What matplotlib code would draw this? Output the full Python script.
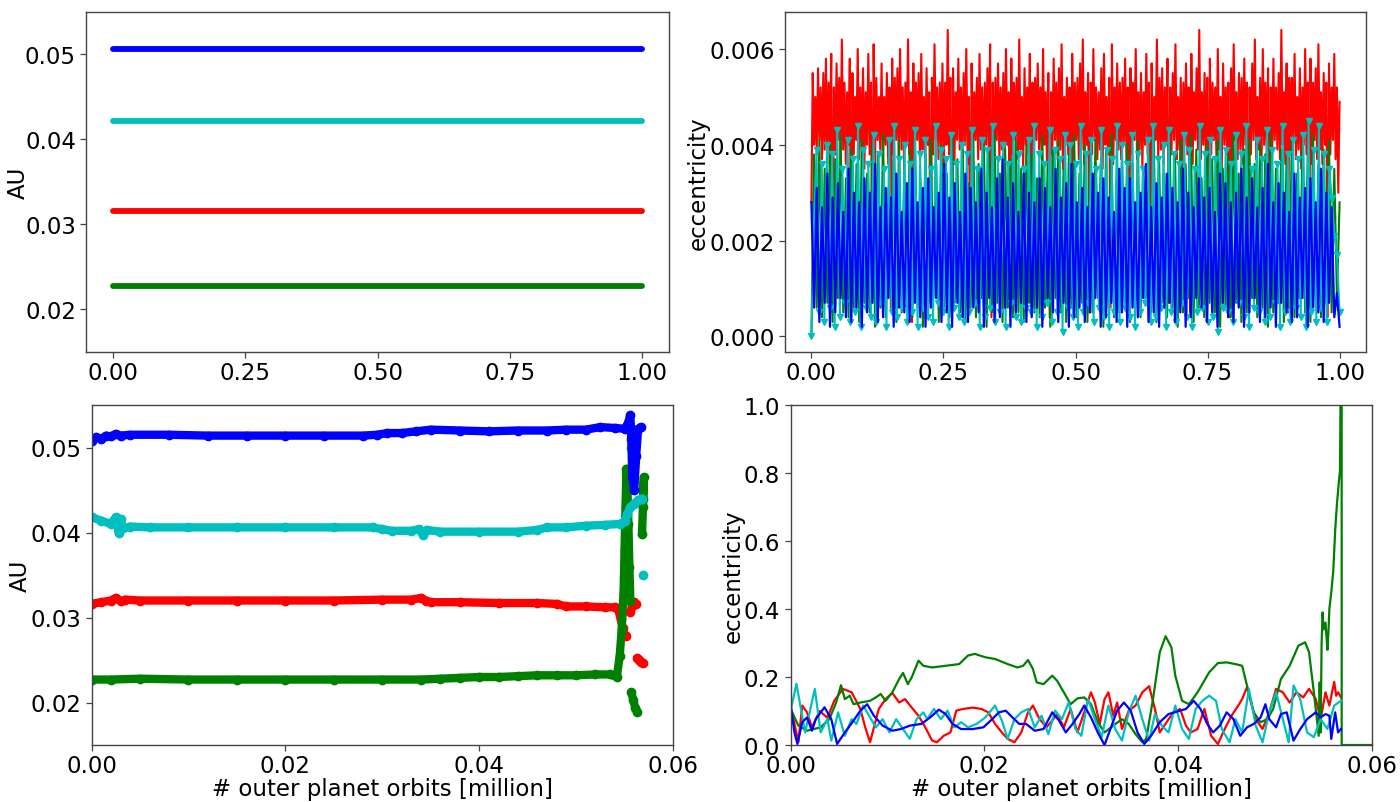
import numpy as np
import matplotlib
matplotlib.use("Agg")
import matplotlib.pyplot as plt

nan = float("nan")
plt.rcParams['font.family'] = ['DejaVu Sans']
plt.rcParams['font.size'] = 16.5

# ---------------- top-left: semi-major axes (initial) ----------------
tl_t = [0.0, 0.25, 0.5, 0.75, 1.0]
tl_blue = [0.0506, 0.0506, 0.0506, 0.0506, 0.0506]
tl_cyan = [0.0422, 0.0422, 0.0422, 0.0422, 0.0422]
tl_red = [0.0316, 0.0316, 0.0316, 0.0316, 0.0316]
tl_green = [0.0227, 0.0227, 0.0227, 0.0227, 0.0227]

# ---------------- top-right: eccentricity (units of 1e-4) ----------------
tr_red = [
28,55, 40,50, 38,56, 41,52, 37,55, 39,58, 36,53, 40,59, 5,52, 38,57,
41,54, 37,62, 39,53, 36,51, 40,58, 4,55, 38,50, 41,60, 37,52, 39,56,
35,51, 40,59, 38,53, 8,61, 36,54, 41,50, 39,57, 37,50, 40,55, 36,52,
6,58, 38,54, 41,56, 37,60, 39,52, 35,53, 40,62, 38,51, 3,57, 36,53,
41,55, 37,59, 39,50, 36,56, 40,51, 7,54, 38,61, 41,52, 37,53, 39,57,
35,53, 40,64, 38,54, 5,56, 36,51, 41,58, 39,52, 37,55, 40,60, 36,50,
9,57, 38,51, 41,54, 37,59, 39,52, 35,53, 40,56, 38,61, 4,53, 36,54,
41,57, 37,52, 39,55, 36,60, 40,51, 6,58, 38,53, 41,54, 37,62, 39,50,
35,56, 40,52, 38,59, 7,53, 36,54, 41,57, 39,52, 37,60, 40,51, 36,55,
4,51, 38,58, 41,53, 37,56, 39,61, 35,50, 40,54, 38,52, 8,59, 36,53,
41,54, 37,57, 39,62, 36,51, 40,55, 5,53, 38,60, 41,52, 37,51, 39,56,
35,59, 40,50, 38,54, 6,61, 36,52, 41,57, 39,53, 37,54, 40,58, 36,52,
9,56, 38,53, 41,60, 37,51, 39,55, 35,51, 40,59, 38,53, 3,57, 36,50,
41,62, 37,54, 39,56, 36,52, 40,58, 7,52, 38,55, 41,61, 37,50, 39,54,
35,53, 40,57, 38,52, 5,59, 36,51, 41,56, 39,64, 37,51, 40,55, 36,54,
8,58, 38,53, 41,52, 37,60, 39,50, 35,57, 40,52, 38,53, 4,56, 36,61,
41,51, 37,55, 39,54, 36,58, 40,53, 6,52, 38,57, 41,62, 37,50, 39,54,
35,60, 40,53, 38,56, 9,52, 36,58, 41,52, 39,55, 37,64, 40,51, 36,57,
5,54, 38,54, 41,59, 37,50, 39,56, 35,52, 40,60, 38,53, 7,58, 36,53,
41,56, 37,61, 39,51, 36,55, 40,53, 4,57, 38,52, 41,59, 37,52, 30,49,
]
tr_green = [
0,38, 6,41, 4,35, 7,40, 3,37, 8,42, 5,33, 4,39, 6,36, 3,41,
7,34, 5,40, 2,38, 6,42, 4,31, 8,37, 3,41, 5,35, 7,39, 4,42,
6,33, 2,38, 5,41, 8,36, 3,40, 6,34, 4,42, 7,37, 5,39, 3,32,
6,41, 4,36, 8,40, 2,38, 5,42, 7,34, 3,39, 6,37, 4,41, 5,35,
3,40, 7,38, 5,33, 4,42, 6,36, 2,39, 8,41, 5,35, 3,38, 6,42,
4,34, 7,40, 3,37, 5,41, 8,36, 2,39, 6,42, 4,33, 5,38, 7,40,
3,36, 6,41, 4,35, 8,39, 5,42, 3,37, 7,34, 4,40, 6,38, 2,41,
5,36, 8,42, 3,39, 6,33, 4,40, 7,37, 5,41, 2,35, 6,38, 4,42,
7,34, 3,39, 5,41, 8,36, 4,40, 6,38, 2,42, 5,35, 7,39, 3,37,
6,41, 4,34, 8,40, 5,38, 3,42, 6,36, 4,39, 7,41, 5,35, 8,28,
]
tr_cyan = [
0,24,39, 5,36, 3,40, 6,38, 2,43, 4,35, 7,41, 3,37, 5,44, 2,39,
6,36, 4,42, 3,38, 7,35, 2,41, 5,44, 4,37, 6,40, 3,36, 5,43,
2,38, 6,41, 4,35, 3,44, 7,39, 5,37, 2,42, 6,36, 4,40, 3,38,
5,43, 7,35, 2,41, 4,39, 6,44, 3,37, 5,40, 2,36, 7,42, 4,38,
3,35, 6,41, 5,44, 2,38, 4,36, 7,43, 3,39, 5,37, 1,42, 6,40,
4,36, 2,44, 5,38, 7,41, 3,35, 6,43, 4,39, 2,37, 5,44, 3,40,
6,36, 4,42, 2,38, 5,35, 7,41, 3,44, 4,37, 6,40, 2,43, 5,38,
3,36, 7,42, 4,39, 2,35, 5,44, 6,38, 3,41, 4,37, 1,43, 6,39,
5,36, 3,42, 7,38, 4,44, 2,35, 6,41, 5,37, 3,43, 4,39, 7,36,
2,44, 5,38, 3,41, 6,37, 4,42, 2,45, 5,39, 3,44, 6,38, 3,35, 29,21,17,5,
]
tr_blue = [
28,6, 31,3, 27,7, 34,2, 29,5, 32,8, 26,4, 35,3, 30,6, 28,2,
33,5, 30,7, 36,3, 27,4, 31,8, 29,2, 34,6, 26,5, 32,3, 35,7,
28,4, 31,2, 33,6, 27,8, 30,3, 36,5, 29,2, 32,7, 26,4, 34,3,
31,6, 28,5, 35,2, 30,8, 27,3, 33,4, 37,6, 29,2, 32,5, 26,7,
34,3, 30,4, 28,6, 33,2, 31,8, 27,5, 35,3, 29,7, 32,2, 36,4,
28,6, 31,3, 27,5, 34,8, 30,2, 33,4, 29,7, 26,3, 35,5, 31,2,
33,6, 28,4, 30,8, 36,3, 27,5, 32,2, 29,6, 34,7, 31,3, 28,5,
35,2, 30,4, 27,8, 33,6, 29,3, 31,5, 26,2, 34,7, 32,4, 28,3,
30,6, 35,2, 29,5, 33,8, 27,3, 31,4, 36,6, 28,2, 32,7, 30,5,
26,3, 34,4, 29,8, 31,2, 33,6, 28,5, 35,3, 30,7, 27,4, 9,2,
]

# ---------------- bottom-left: semi-major axes (evolution) ----------------
bl_red_t = [0, 0.001, 0.002, 0.0025, 0.003, 0.0035, 0.005, 0.010, 0.015, 0.020,
            0.025, 0.030, 0.033, 0.034, 0.0345, 0.035, 0.038, 0.042, 0.046, 0.048,
            0.049, 0.051, 0.053, 0.0540, 0.0544, 0.0546, 0.0548, 0.0550, 0.0552, nan,
            0.0556, 0.0558, 0.0560, 0.0562, nan, 0.0563, 0.0565, 0.0567, 0.0569]
bl_red_a = [0.0316, 0.0318, 0.0320, 0.0323, 0.0319, 0.0321, 0.0320, 0.0320, 0.0320, 0.0320,
            0.0320, 0.0321, 0.0321, 0.0323, 0.0320, 0.0318, 0.0318, 0.0317, 0.0317, 0.0316,
            0.0313, 0.0313, 0.0312, 0.0312, 0.0308, 0.0298, 0.0288, 0.0280, 0.0278, nan,
            0.0306, 0.0314, 0.0318, 0.0316, nan, 0.0252, 0.0250, 0.0248, 0.0246]
bl_green_t = [0, 0.002, 0.005, 0.010, 0.015, 0.020, 0.025, 0.030, 0.034, 0.036,
              0.038, 0.040, 0.042, 0.044, 0.046, 0.048, 0.050, 0.052, 0.0535, 0.0542,
              0.0545, 0.0547, 0.0549, 0.0550, 0.0551, 0.0552, 0.0553, 0.0554, 0.0555, 0.0556,
              nan, 0.0557, 0.0559, 0.0561, 0.0563, nan, 0.0568, 0.0569, 0.0570, 0.0569]
bl_green_a = [0.0227, 0.0227, 0.0228, 0.0227, 0.0227, 0.0227, 0.0227, 0.0227, 0.0227, 0.0228,
              0.0229, 0.0230, 0.0230, 0.0231, 0.0232, 0.0232, 0.0232, 0.0233, 0.0233, 0.0230,
              0.0255, 0.0285, 0.0330, 0.0380, 0.0430, 0.0475, 0.0450, 0.0410, 0.0360, 0.0320,
              nan, 0.0212, 0.0203, 0.0194, 0.0189, nan, 0.0398, 0.0430, 0.0465, 0.0440]
bl_cyan_t = [0, 0.001, 0.002, 0.0025, 0.0028, 0.003, 0.0032, 0.004, 0.006, 0.010,
             0.015, 0.020, 0.025, 0.029, 0.030, 0.031, 0.033, 0.0338, 0.0342, 0.0346,
             0.036, 0.040, 0.044, 0.046, 0.047, 0.049, 0.051, 0.053, 0.0545, 0.0550,
             0.0553, 0.0556, 0.0560, 0.0564, 0.0568, nan, 0.0557, 0.0559, 0.0561, nan, 0.0569]
bl_cyan_a = [0.0418, 0.0414, 0.0410, 0.0418, 0.0400, 0.0416, 0.0405, 0.0407, 0.0406, 0.0406,
             0.0406, 0.0406, 0.0406, 0.0406, 0.0404, 0.0402, 0.0402, 0.0404, 0.0397, 0.0403,
             0.0401, 0.0401, 0.0401, 0.0403, 0.0406, 0.0406, 0.0408, 0.0409, 0.0410, 0.0413,
             0.0422, 0.0430, 0.0434, 0.0438, 0.0440, nan, 0.0500, 0.0512, 0.0505, nan, 0.0350]
bl_blue_t = [0, 0.0005, 0.001, 0.0015, 0.002, 0.0025, 0.003, 0.004, 0.008, 0.012,
             0.016, 0.020, 0.024, 0.028, 0.0295, 0.0305, 0.032, 0.0335, 0.035, 0.038,
             0.041, 0.044, 0.047, 0.049, 0.051, 0.0525, 0.054, 0.0550, 0.0553, 0.0556,
             0.0557, 0.0558, 0.0560, 0.0562, 0.0564, 0.0567]
bl_blue_a = [0.0508, 0.0512, 0.0510, 0.0514, 0.0513, 0.0516, 0.0514, 0.0515, 0.0515, 0.0514,
             0.0514, 0.0514, 0.0514, 0.0514, 0.0515, 0.0517, 0.0517, 0.0519, 0.0521, 0.0520,
             0.0519, 0.0520, 0.0520, 0.0521, 0.0521, 0.0524, 0.0523, 0.0522, 0.0527, 0.0538,
             0.0510, 0.0465, 0.0450, 0.0490, 0.0522, 0.0524]

# ---------------- bottom-right: eccentricity (evolution) ----------------
br_green_t = [0, 0.0008, 0.0017, 0.0031, 0.0040, 0.0047, 0.0052, 0.0056, 0.0061, 0.0065,
              0.0072, 0.0082, 0.0088, 0.0093, 0.0098, 0.0105, 0.0112, 0.0116, 0.0121, 0.0125,
              0.0132, 0.0137, 0.0146, 0.0160, 0.0174, 0.0183, 0.0190, 0.0201, 0.0211, 0.0224,
              0.0234, 0.0240, 0.0245, 0.0250, 0.0254, 0.0261, 0.0270, 0.0275, 0.0282, 0.0289,
              0.0296, 0.0303, 0.0310, 0.0317, 0.0324, 0.0333, 0.0342, 0.0349, 0.0356, 0.0363,
              0.0367, 0.0374, 0.0381, 0.0387, 0.0393, 0.0397, 0.0404, 0.0411, 0.0420, 0.0432,
              0.0441, 0.0450, 0.0459, 0.0466, 0.0471, 0.0478, 0.0485, 0.0492, 0.0498, 0.0506,
              0.0515, 0.0524, 0.0531, 0.0535, 0.0540, 0.0545, 0.0546, 0.0547, 0.0548, 0.0549,
              0.0550, 0.0552, 0.0554, 0.0555, 0.0556, 0.0558, 0.0560, 0.0562, 0.0563, 0.0564,
              0.0566, 0.0567, 0.05687, 0.05687, 0.0605]
br_green_e = [0.106, 0.057, 0.042, 0.052, 0.076, 0.125, 0.176, 0.135, 0.145, 0.120,
              0.125, 0.130, 0.140, 0.150, 0.130, 0.155, 0.194, 0.212, 0.179, 0.199,
              0.248, 0.233, 0.228, 0.233, 0.238, 0.263, 0.268, 0.258, 0.253, 0.238,
              0.228, 0.233, 0.250, 0.224, 0.184, 0.179, 0.204, 0.189, 0.155, 0.120,
              0.137, 0.140, 0.120, 0.067, 0.037, 0.057, 0.076, 0.062, 0.032, 0.008,
              0.018, 0.135, 0.273, 0.320, 0.287, 0.204, 0.130, 0.120, 0.155, 0.214,
              0.241, 0.243, 0.238, 0.233, 0.175, 0.096, 0.067, 0.076, 0.106, 0.194,
              0.233, 0.292, 0.302, 0.273, 0.155, 0.027, 0.184, 0.037, 0.300, 0.390,
              0.340, 0.360, 0.280, 0.330, 0.400, 0.450, 0.510, 0.630, 0.675, 0.715,
              0.780, 0.807, 1.5, 0.0, 0.0]
br_red_t = [0, 0.0003, 0.0008, 0.0012, 0.0017, 0.0022, 0.0030, 0.0038, 0.0045, 0.0054,
            0.0063, 0.0072, 0.0077, 0.0082, 0.0086, 0.0091, 0.0098, 0.0105, 0.0112, 0.0118,
            0.0125, 0.0132, 0.0139, 0.0146, 0.0151, 0.0158, 0.0165, 0.0171, 0.0178, 0.0188,
            0.0197, 0.0204, 0.0211, 0.0218, 0.0224, 0.0231, 0.0238, 0.0245, 0.0250, 0.0257,
            0.0264, 0.0270, 0.0275, 0.0282, 0.0289, 0.0296, 0.0303, 0.0310, 0.0314, 0.0319,
            0.0324, 0.0328, 0.0333, 0.0337, 0.0342, 0.0349, 0.0356, 0.0363, 0.0370, 0.0376,
            0.0381, 0.0388, 0.0395, 0.0402, 0.0408, 0.0413, 0.0420, 0.0427, 0.0434, 0.0441,
            0.0448, 0.0455, 0.0462, 0.0466, 0.0471, 0.0476, 0.0480, 0.0487, 0.0494, 0.0501,
            0.0508, 0.0515, 0.0522, 0.0529, 0.0535, 0.0542, 0.0547, 0.0552, 0.0556, 0.0561,
            0.0563, 0.0565, 0.0568]
br_red_e = [0.116, 0.076, 0.008, 0.116, 0.096, 0.052, 0.100, 0.080, 0.130, 0.165,
            0.155, 0.106, 0.052, 0.008, 0.052, 0.106, 0.135, 0.153, 0.125, 0.135,
            0.110, 0.086, 0.052, 0.013, 0.008, 0.027, 0.037, 0.101, 0.106, 0.110,
            0.106, 0.096, 0.062, 0.037, 0.018, 0.008, 0.037, 0.096, 0.116, 0.076,
            0.052, 0.072, 0.091, 0.052, 0.106, 0.037, 0.096, 0.155, 0.125, 0.062,
            0.135, 0.155, 0.086, 0.125, 0.047, 0.101, 0.116, 0.155, 0.173, 0.106,
            0.037, 0.067, 0.096, 0.106, 0.057, 0.037, 0.047, 0.106, 0.027, 0.003,
            0.047, 0.086, 0.116, 0.135, 0.170, 0.116, 0.076, 0.047, 0.096, 0.165,
            0.155, 0.125, 0.155, 0.140, 0.165, 0.135, 0.076, 0.155, 0.116, 0.186,
            0.145, 0.155, 0.140]
br_cyan_t = [0, 0.0006, 0.0015, 0.0025, 0.0031, 0.0038, 0.0042, 0.0049, 0.0056, 0.0063,
             0.0068, 0.0075, 0.0082, 0.0088, 0.0095, 0.0102, 0.0109, 0.0116, 0.0123, 0.0130,
             0.0137, 0.0141, 0.0148, 0.0155, 0.0162, 0.0169, 0.0176, 0.0183, 0.0192, 0.0201,
             0.0211, 0.0218, 0.0224, 0.0231, 0.0238, 0.0245, 0.0252, 0.0259, 0.0266, 0.0273,
             0.0280, 0.0287, 0.0294, 0.0300, 0.0307, 0.0314, 0.0321, 0.0328, 0.0335, 0.0342,
             0.0349, 0.0356, 0.0363, 0.0370, 0.0376, 0.0383, 0.0390, 0.0397, 0.0404, 0.0411,
             0.0418, 0.0425, 0.0432, 0.0439, 0.0445, 0.0453, 0.0459, 0.0466, 0.0473, 0.0480,
             0.0487, 0.0494, 0.0501, 0.0508, 0.0514, 0.0519, 0.0526, 0.0533, 0.0540, 0.0547,
             0.0554, 0.0561, 0.0568]
br_cyan_e = [0.100, 0.180, 0.037, 0.165, 0.037, 0.076, 0.013, 0.096, 0.027, 0.076,
             0.062, 0.116, 0.081, 0.052, 0.076, 0.037, 0.076, 0.047, 0.018, 0.076,
             0.096, 0.076, 0.106, 0.076, 0.101, 0.052, 0.067, 0.052, 0.062, 0.081,
             0.116, 0.072, 0.018, 0.076, 0.096, 0.106, 0.052, 0.086, 0.032, 0.101,
             0.076, 0.125, 0.047, 0.027, 0.135, 0.076, 0.023, 0.116, 0.047, 0.013,
             0.096, 0.145, 0.076, 0.013, 0.091, 0.057, 0.037, 0.116, 0.047, 0.018,
             0.106, 0.130, 0.145, 0.130, 0.047, 0.008, 0.076, 0.037, 0.165, 0.057,
             0.008, 0.096, 0.155, 0.076, 0.008, 0.175, 0.135, 0.037, 0.023, 0.076,
             0.047, 0.116, 0.130]
br_blue_t = [0, 0.0004, 0.0007, 0.0012, 0.0017, 0.0022, 0.0026, 0.0035, 0.0042, 0.0048,
             0.0056, 0.0065, 0.0072, 0.0079, 0.0086, 0.0095, 0.0105, 0.0114, 0.0123, 0.0135,
             0.0144, 0.0153, 0.0160, 0.0167, 0.0176, 0.0188, 0.0199, 0.0208, 0.0215, 0.0222,
             0.0229, 0.0236, 0.0243, 0.0252, 0.0261, 0.0270, 0.0277, 0.0284, 0.0291, 0.0298,
             0.0303, 0.0310, 0.0317, 0.0324, 0.0330, 0.0337, 0.0344, 0.0351, 0.0358, 0.0365,
             0.0372, 0.0381, 0.0390, 0.0402, 0.0408, 0.0416, 0.0423, 0.0430, 0.0436, 0.0443,
             0.0450, 0.0457, 0.0464, 0.0471, 0.0478, 0.0485, 0.0490, 0.0494, 0.0501, 0.0506,
             0.0512, 0.0519, 0.0526, 0.0533, 0.0542, 0.0547, 0.0552, 0.0556, 0.0558, 0.0562,
             0.0565, 0.0568]
br_blue_e = [0.115, 0.037, 0.003, 0.067, 0.081, 0.042, 0.076, 0.111, 0.076, 0.003,
             0.037, 0.072, 0.101, 0.120, 0.086, 0.057, 0.042, 0.047, 0.057, 0.062,
             0.081, 0.104, 0.091, 0.062, 0.047, 0.047, 0.052, 0.076, 0.096, 0.101,
             0.081, 0.062, 0.062, 0.042, 0.047, 0.096, 0.072, 0.037, 0.062, 0.091,
             0.116, 0.081, 0.037, 0.000, 0.047, 0.101, 0.125, 0.101, 0.037, 0.003,
             0.027, 0.067, 0.091, 0.101, 0.106, 0.130, 0.106, 0.062, 0.037, 0.057,
             0.096, 0.076, 0.027, 0.052, 0.062, 0.081, 0.120, 0.076, 0.052, 0.091,
             0.096, 0.013, 0.047, 0.076, 0.096, 0.081, 0.091, 0.086, 0.018, 0.096,
             0.037, 0.047]

au_ticks = [0.02, 0.03, 0.04, 0.05]
ecc_top_ticks = [0.000, 0.002, 0.004, 0.006]
x_top_ticks = [0.00, 0.25, 0.50, 0.75, 1.00]
x_bot_ticks = [0.00, 0.02, 0.04, 0.06]
ecc_bot_ticks = [0.0, 0.2, 0.4, 0.6, 0.8, 1.0]
xlabel_text = "# outer planet orbits [million]"

W, H = 1400, 803
fig = plt.figure(figsize=(W / 100, H / 100), dpi=100)


def box(l, t, r, b):
    return [l / W, (H - b) / H, (r - l) / W, (b - t) / H]


ax_tl = fig.add_axes(box(86.3, 12.7, 668.7, 352.7))
ax_tr = fig.add_axes(box(785, 12.7, 1366, 352.7))
ax_bl = fig.add_axes(box(91.5, 406, 673, 746))
ax_br = fig.add_axes(box(790.6, 406, 1372, 746))

spine_col = '#444444'
for ax in (ax_tl, ax_tr, ax_bl, ax_br):
    for s in ax.spines.values():
        s.set_color(spine_col)
        s.set_linewidth(1.0)
    ax.tick_params(colors='black', length=4, width=0.9, labelsize=16.5)
    ax.tick_params(axis='both', color=spine_col)
    ax.tick_params(axis='x', pad=2.5)

# top-left
for vals, col in ((tl_red, 'r'), (tl_green, 'g'), (tl_cyan, 'c'), (tl_blue, 'b')):
    ax_tl.plot(tl_t, vals, '-', color=col, lw=4.2, solid_capstyle='round')
ax_tl.set_xlim(-0.05, 1.05)
ax_tl.set_ylim(0.015, 0.055)
ax_tl.set_xticks(x_top_ticks)
ax_tl.set_xticklabels([f"{v:.2f}" for v in x_top_ticks])
ax_tl.set_yticks(au_ticks)
ax_tl.set_yticklabels([f"{v:.2f}" for v in au_ticks])
ax_tl.set_ylabel("AU", va='center')
ax_tl.yaxis.set_label_coords(-0.117, 0.5)

# top-right
for vals, col in ((tr_red, 'r'), (tr_green, 'g')):
    arr = np.array(vals) * 1e-4
    ax_tr.plot(np.linspace(0, 1, len(arr)), arr, '-', color=col, lw=1.5)
arr = np.array(tr_cyan) * 1e-4
ax_tr.plot(np.linspace(0, 1, len(arr)), arr, '-', color='c', lw=1.4,
           marker='v', ms=4.5, mec='c', mfc='c')
arr = np.array(tr_blue) * 1e-4
ax_tr.plot(np.linspace(0, 1, len(arr)), arr, '-', color='b', lw=1.6)
ax_tr.set_xlim(-0.05, 1.05)
ax_tr.set_ylim(-0.00032, 0.00678)
ax_tr.set_xticks(x_top_ticks)
ax_tr.set_xticklabels([f"{v:.2f}" for v in x_top_ticks])
ax_tr.set_yticks(ecc_top_ticks)
ax_tr.set_yticklabels([f"{v:.3f}" for v in ecc_top_ticks])
ax_tr.set_ylabel("eccentricity", va='center')
ax_tr.yaxis.set_label_coords(-0.150, 0.5)

# bottom-left
for t, a, col in ((bl_red_t, bl_red_a, 'r'), (bl_green_t, bl_green_a, 'g'),
                  (bl_cyan_t, bl_cyan_a, 'c'), (bl_blue_t, bl_blue_a, 'b')):
    ax_bl.plot(t, a, '-', color=col, lw=6, solid_capstyle='round',
               marker='o', ms=6, mec=col, mfc=col)
ax_bl.set_xlim(0, 0.06)
ax_bl.set_ylim(0.015, 0.055)
ax_bl.set_xticks(x_bot_ticks)
ax_bl.set_xticklabels([f"{v:.2f}" for v in x_bot_ticks])
ax_bl.set_yticks(au_ticks)
ax_bl.set_yticklabels([f"{v:.2f}" for v in au_ticks])
ax_bl.set_ylabel("AU", va='center')
ax_bl.yaxis.set_label_coords(-0.122, 0.5)
ax_bl.set_xlabel(xlabel_text, va='center')
ax_bl.xaxis.set_label_coords(0.5, -0.127)

# bottom-right
for t, e, col in ((br_red_t, br_red_e, 'r'), (br_green_t, br_green_e, 'g'),
                  (br_cyan_t, br_cyan_e, 'c'), (br_blue_t, br_blue_e, 'b')):
    ax_br.plot(t, e, '-', color=col, lw=1.6)
ax_br.set_xlim(0, 0.06)
ax_br.set_ylim(0, 1.0)
ax_br.set_xticks(x_bot_ticks)
ax_br.set_xticklabels([f"{v:.2f}" for v in x_bot_ticks])
ax_br.set_yticks(ecc_bot_ticks)
ax_br.set_yticklabels([f"{v:.1f}" for v in ecc_bot_ticks])
ax_br.set_ylabel("eccentricity", va='center')
ax_br.yaxis.set_label_coords(-0.098, 0.5)
ax_br.set_xlabel(xlabel_text, va='center')
ax_br.xaxis.set_label_coords(0.5, -0.127)

fig.savefig("out.png", dpi=100)
